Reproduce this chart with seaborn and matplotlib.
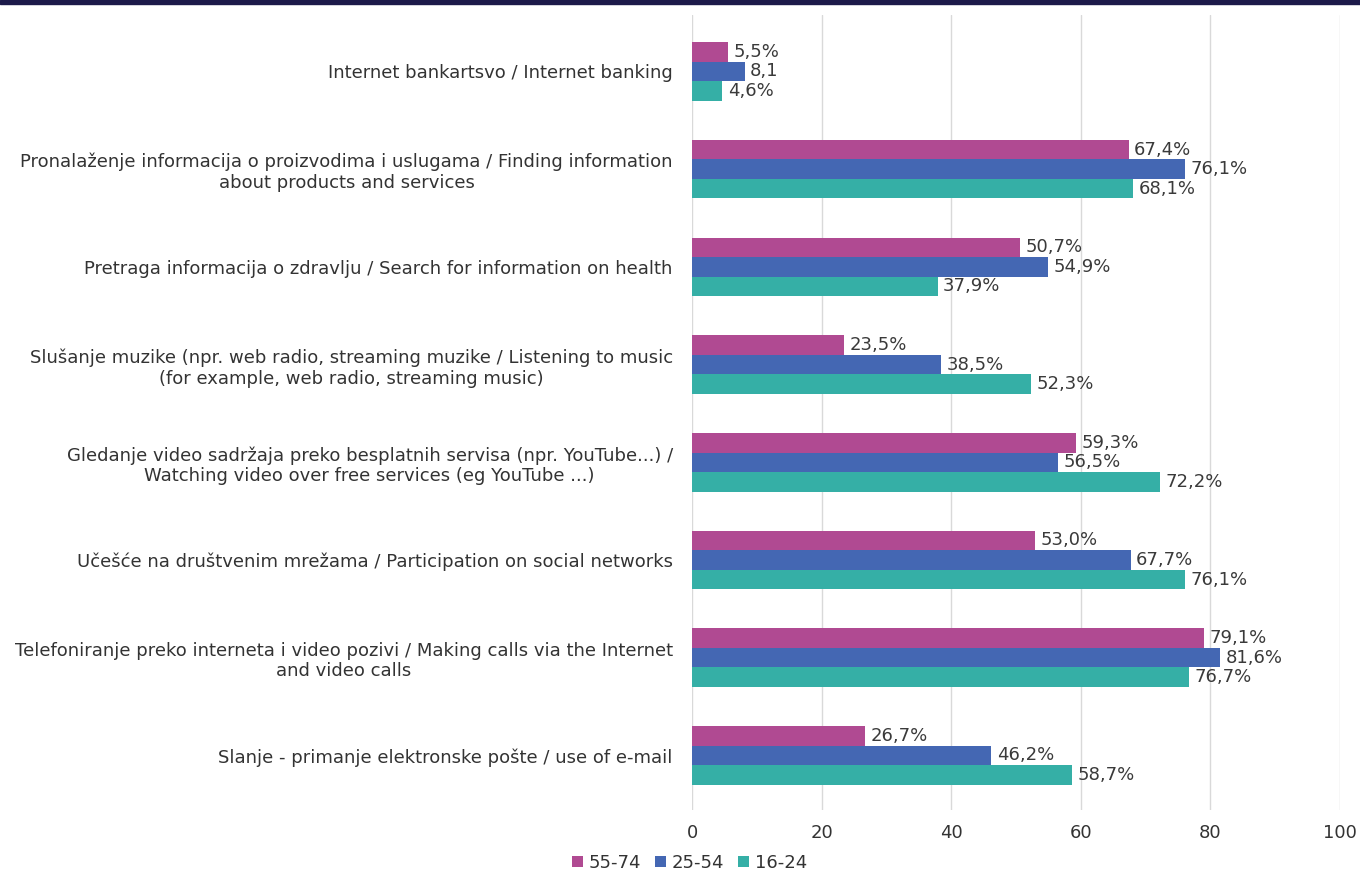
import pandas as pd
import matplotlib
matplotlib.use("Agg")
import matplotlib.pyplot as plt
import seaborn as sns
from matplotlib.patches import Rectangle

kategorije = [
    "Internet bankartsvo / Internet banking",
    "Pronalaženje informacija o proizvodima i uslugama / Finding information\nabout products and services",
    "Pretraga informacija o zdravlju / Search for information on health",
    "Slušanje muzike (npr. web radio, streaming muzike / Listening to music\n(for example, web radio, streaming music)",
    "Gledanje video sadržaja preko besplatnih servisa (npr. YouTube...) /\nWatching video over free services (eg YouTube ...)",
    "Učešće na društvenim mrežama / Participation on social networks",
    "Telefoniranje preko interneta i video pozivi / Making calls via the Internet\nand video calls",
    "Slanje - primanje elektronske pošte / use of e-mail",
]
grupe = ["55-74", "25-54", "16-24"]
v_55_74 = [5.5, 67.4, 50.7, 23.5, 59.3, 53.0, 79.1, 26.7]
v_25_54 = [8.1, 76.1, 54.9, 38.5, 56.5, 67.7, 81.6, 46.2]
v_16_24 = [4.6, 68.1, 37.9, 52.3, 72.2, 76.1, 76.7, 58.7]
oznake_55_74 = ["5,5%", "67,4%", "50,7%", "23,5%", "59,3%", "53,0%", "79,1%", "26,7%"]
oznake_25_54 = ["8,1", "76,1%", "54,9%", "38,5%", "56,5%", "67,7%", "81,6%", "46,2%"]
oznake_16_24 = ["4,6%", "68,1%", "37,9%", "52,3%", "72,2%", "76,1%", "76,7%", "58,7%"]
boje = ["#b04a92", "#4467b3", "#35afa6"]

redovi = []
for g, vals in zip(grupe, [v_55_74, v_25_54, v_16_24]):
    for k, v in zip(kategorije, vals):
        redovi.append({"Kategorija": k, "Grupa": g, "Vrijednost": v})
df = pd.DataFrame(redovi)

sns.set_style("white")
plt.rcParams["font.family"] = ["DejaVu Sans"]

fig = plt.figure(figsize=(13.6, 8.72), dpi=100)
ax = fig.add_axes([0.509, 0.071, 0.476, 0.912])
sns.barplot(data=df, y="Kategorija", x="Vrijednost", hue="Grupa",
            order=kategorije, hue_order=grupe, palette=boje, saturation=1,
            orient="h", width=0.6, linewidth=0, ax=ax, legend=True)

for cont, lbls in zip(ax.containers, [oznake_55_74, oznake_25_54, oznake_16_24]):
    ax.bar_label(cont, labels=lbls, padding=4, fontsize=13, color="#3a3a3a")

ax.set_xlim(0, 100)
ax.set_ylim(7.56, -0.58)
ax.set_xticks([0, 20, 40, 60, 80, 100])
ax.grid(axis="x", color="#d9d9d9", linewidth=1)
ax.set_axisbelow(True)
for s in ax.spines.values():
    s.set_visible(False)
ax.set_xlabel("")
ax.set_ylabel("")
ax.tick_params(axis="y", length=0, pad=14, labelsize=13, labelcolor="#333333")
ax.tick_params(axis="x", length=0, pad=10, labelsize=13, labelcolor="#333333")
for t in ax.get_yticklabels():
    t.set_multialignment("center")

ax.get_legend().remove()
h, l = ax.get_legend_handles_labels()
fig.legend(h, l, loc="lower left", bbox_to_anchor=(0.418, -0.004), ncol=3,
           frameon=False, fontsize=13, handlelength=0.6, handleheight=0.6,
           handletextpad=0.3, columnspacing=0.8, labelcolor="#333333",
           borderaxespad=0, borderpad=0.2)

fig.add_artist(Rectangle((0, 0.995), 1, 0.005, transform=fig.transFigure,
                         color="#1c1a4a", zorder=10))

fig.savefig("out.png", dpi=100)
